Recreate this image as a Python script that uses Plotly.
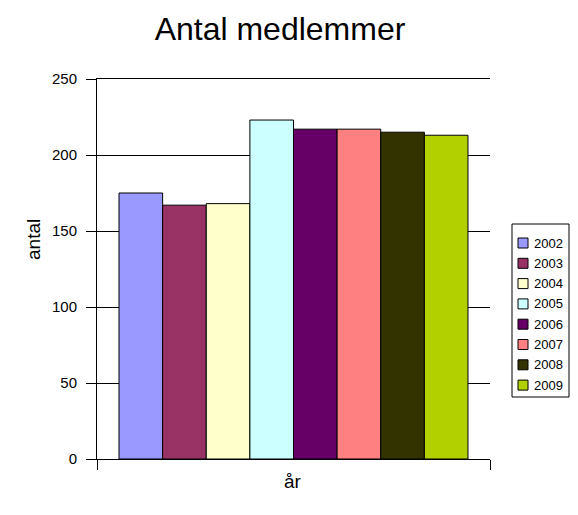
import plotly.graph_objects as go

years = ["2002", "2003", "2004", "2005", "2006", "2007", "2008", "2009"]
values = [175, 167, 168, 223, 217, 217, 215, 213]
colors = ["#9999FF", "#993366", "#FFFFCC", "#CCFFFF", "#660066", "#FF8080", "#333300", "#B2D000"]

W, H = 578, 515
OFF = 8  # body margin of the html page
# desired plot area in page pixels
PL, PR, PT, PB = 97, 490, 79, 459
ml, mr, mt, mb = PL - OFF, W - PR + OFF, PT - OFF, H - PB + OFF
pw, ph = PR - PL, PB - PT


def px(x):  # page x -> paper x
    return (x - PL) / pw


def py(y):  # page y -> paper y
    return (PB - y) / ph


fig = go.Figure()
for yr, v, c in zip(years, values, colors):
    fig.add_trace(go.Bar(
        x=[0], y=[v], name=yr, showlegend=False,
        marker=dict(color=c, line=dict(color="black", width=1)),
    ))

font_family = "Liberation Sans, Arial, sans-serif"

shapes = []
annotations = []
# legend box
LG_L, LG_R, LG_T, LG_B = 512, 569, 224, 397
shapes.append(dict(type="rect", xref="paper", yref="paper",
                   x0=px(LG_L), x1=px(LG_R), y0=py(LG_B), y1=py(LG_T),
                   line=dict(color="black", width=1), fillcolor="white", layer="above"))
first, pitch = 243, 20.3
for i, (yr, c) in enumerate(zip(years, colors)):
    cy = first + i * pitch
    shapes.append(dict(type="rect", xref="paper", yref="paper",
                       x0=px(518), x1=px(528), y0=py(cy + 5), y1=py(cy - 5),
                       line=dict(color="black", width=1), fillcolor=c, layer="above"))
    annotations.append(dict(text=yr, xref="paper", yref="paper", x=px(532), y=py(cy),
                            xanchor="left", yanchor="middle", showarrow=False,
                            font=dict(size=13, family=font_family, color="black")))

# axis titles
annotations.append(dict(text="antal", xref="paper", yref="paper", x=px(33), y=py(240),
                        xanchor="center", yanchor="middle", textangle=-90, showarrow=False,
                        font=dict(size=19, family=font_family, color="black")))
annotations.append(dict(text="år", xref="paper", yref="paper", x=px(293), y=py(481),
                        xanchor="center", yanchor="middle", showarrow=False,
                        font=dict(size=19, family=font_family, color="black")))

fig.update_layout(
    width=W, height=H,
    paper_bgcolor="white", plot_bgcolor="white",
    barmode="group", bargap=0.112, bargroupgap=0,
    margin=dict(l=ml, r=mr, t=mt, b=mb),
    font=dict(family=font_family, color="black", size=15),
    title=dict(text="Antal medlemmer", x=(280 - OFF) / W, xanchor="center",
               y=1 - (29 - OFF) / H, yanchor="middle",
               font=dict(size=32, family=font_family, color="black")),
    xaxis=dict(range=[-0.5, 0.5], tickvals=[-0.5, 0.5], ticktext=["", ""],
               ticks="outside", ticklen=10, tickcolor="black", showgrid=False,
               showline=True, linecolor="black", linewidth=1, zeroline=False,
               mirror=True),
    yaxis=dict(range=[0, 250], tickvals=[0, 50, 100, 150, 200, 250],
               ticks="outside", ticklen=10, tickcolor="black",
               showgrid=True, gridcolor="black", gridwidth=1,
               showline=True, linecolor="black", linewidth=1, zeroline=False,
               tickfont=dict(size=15), ticklabelstandoff=6),
    shapes=shapes,
    annotations=annotations,
)
fig.write_html("out.html")
